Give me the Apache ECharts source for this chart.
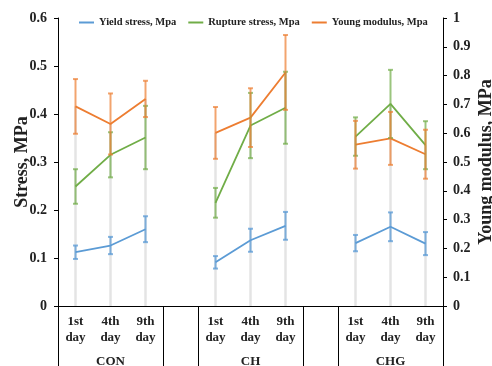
<!DOCTYPE html>
<html>
<head>
<meta charset="utf-8">
<script src="https://cdn.jsdelivr.net/npm/echarts@6/dist/echarts.min.js"></script>
<style>html,body{margin:0;padding:0;background:#fff;}#c{width:492px;height:366px;}</style>
</head>
<body>
<div id="c"></div>
<script>
// ---- data ----
const categories = ['1st\nday','4th\nday','9th\nday','','1st\nday','4th\nday','9th\nday','','1st\nday','4th\nday','9th\nday'];
const groups = ['','CON','','','','CH','','','','CHG',''];
const separatorSlots = [0,3,4,7,8];
const yieldStress = [0.112,0.126,0.160,null,0.091,0.137,0.167,null,0.131,0.165,0.130];
const yieldErr    = [0.014,0.018,0.027,null,0.013,0.024,0.029,null,0.017,0.030,0.024];
const rupture     = [0.249,0.315,0.351,null,0.215,0.376,0.413,null,0.353,0.421,0.335];
const ruptureErr  = [0.036,0.047,0.066,null,0.031,0.068,0.075,null,0.040,0.071,0.050];
const young       = [0.693,0.632,0.719,null,0.601,0.654,0.811,null,0.560,0.582,0.527];
const youngErr    = [0.095,0.106,0.063,null,0.090,0.102,0.130,null,0.083,0.092,0.085];
const leftMax = 0.6, rightMax = 1.0;

const FONT = 'Liberation Serif';
const TXT = '#222';

function errData(vals, errs) {
  const out = [];
  vals.forEach((v, i) => { if (v != null) out.push([i, v - errs[i], v + errs[i]]); });
  return out;
}
function errRender(color) {
  return function (params, api) {
    const x = api.value(0), lo = api.value(1), hi = api.value(2);
    const a = api.coord([x, hi]), b = api.coord([x, lo]);
    const hw = 2.5;
    const st = {stroke: color, lineWidth: 2};
    return {type: 'group', children: [
      {type: 'line', shape: {x1: a[0], y1: a[1], x2: b[0], y2: b[1]}, style: st},
      {type: 'line', shape: {x1: a[0]-hw, y1: a[1], x2: a[0]+hw, y2: a[1]}, style: st},
      {type: 'line', shape: {x1: b[0]-hw, y1: b[1], x2: b[0]+hw, y2: b[1]}, style: st}
    ]};
  };
}
const dropData = [];
categories.forEach((c, i) => {
  if (yieldStress[i] != null) {
    dropData.push([i, Math.max(yieldStress[i], rupture[i], young[i] * leftMax / rightMax)]);
  }
});

const chart = echarts.init(document.getElementById('c'), null, {renderer: 'canvas'});
const axisLabelFmt = v => v === 0 ? '0' : (v === 1 ? '1' : v.toFixed(1));
chart.setOption({
  animation: false,
  backgroundColor: '#fff',
  textStyle: {fontFamily: FONT},
  grid: {left: 58, right: 49, top: 18, bottom: 60, outerBoundsMode: 'none', containLabel: false},
  legend: {
    data: ['Yield stress, Mpa', 'Rupture stress, Mpa', 'Young modulus, Mpa'],
    left: 79, top: 17, padding: 0, itemWidth: 15, itemHeight: 2, itemGap: 12, icon: 'rect',
    textStyle: {fontFamily: FONT, fontWeight: 'bold', fontSize: 10.5, color: TXT}
  },
  xAxis: [
    {
      type: 'category', data: categories, boundaryGap: true,
      axisLine: {show: true, lineStyle: {color: '#000', width: 1}},
      axisTick: {show: false},
      axisLabel: {interval: 0, fontFamily: FONT, fontWeight: 'bold', fontSize: 13, color: TXT, lineHeight: 16, margin: 8},
      splitLine: {show: false}
    },
    {
      type: 'category', data: groups, boundaryGap: true, position: 'bottom',
      axisLine: {show: false},
      axisTick: {show: true, length: 62, interval: (i) => separatorSlots.indexOf(i) >= 0, lineStyle: {color: '#000', width: 1}},
      axisLabel: {interval: 0, fontFamily: FONT, fontWeight: 'bold', fontSize: 13, color: TXT, margin: 49},
      splitLine: {show: false}
    }
  ],
  yAxis: [
    {
      type: 'value', min: 0, max: leftMax, interval: 0.1,
      name: 'Stress, MPa', nameLocation: 'middle', nameGap: 27, nameRotate: 90, nameMoveOverlap: false,
      nameTextStyle: {fontFamily: FONT, fontWeight: 'bold', fontSize: 18, color: TXT},
      axisLine: {show: true, lineStyle: {color: '#000', width: 1}},
      axisTick: {show: true, length: 4, lineStyle: {color: '#000'}},
      axisLabel: {formatter: axisLabelFmt, fontFamily: FONT, fontWeight: 'bold', fontSize: 14, color: TXT, margin: 11},
      splitLine: {show: false}
    },
    {
      type: 'value', min: 0, max: rightMax, interval: 0.1, position: 'right',
      name: 'Young modulus, MPa', nameLocation: 'middle', nameGap: 34, nameRotate: 90, nameMoveOverlap: false,
      nameTextStyle: {fontFamily: FONT, fontWeight: 'bold', fontSize: 18, color: TXT},
      axisLine: {show: true, lineStyle: {color: '#000', width: 1}},
      axisTick: {show: true, length: 4, lineStyle: {color: '#000'}},
      axisLabel: {formatter: axisLabelFmt, fontFamily: FONT, fontWeight: 'bold', fontSize: 14, color: TXT, margin: 10},
      splitLine: {show: false}
    }
  ],
  series: [
    {
      name: 'drop', type: 'custom', xAxisIndex: 0, yAxisIndex: 0, data: dropData, z: 1,
      encode: {x: 0, y: 1}, silent: true,
      renderItem: function (params, api) {
        const x = api.value(0);
        const a = api.coord([x, api.value(1)]), b = api.coord([x, 0]);
        return {type: 'line', shape: {x1: a[0], y1: a[1], x2: b[0], y2: b[1]}, style: {stroke: '#e4e4e4', lineWidth: 2.5}};
      }
    },
    {name: 'Yield stress, Mpa', type: 'line', yAxisIndex: 0, data: yieldStress, symbol: 'none', z: 3,
      lineStyle: {width: 1.8, color: '#5b9bd5'}, itemStyle: {color: '#5b9bd5'}},
    {name: 'Rupture stress, Mpa', type: 'line', yAxisIndex: 0, data: rupture, symbol: 'none', z: 3,
      lineStyle: {width: 1.8, color: '#70ad47'}, itemStyle: {color: '#70ad47'}},
    {name: 'Young modulus, Mpa', type: 'line', yAxisIndex: 1, data: young, symbol: 'none', z: 3,
      lineStyle: {width: 1.8, color: '#ed7d31'}, itemStyle: {color: '#ed7d31'}},
    {name: 'yErr', type: 'custom', yAxisIndex: 0, data: errData(yieldStress, yieldErr), encode: {x: 0, y: [1, 2]}, z: 4,
      renderItem: errRender('rgba(91,155,213,0.75)')},
    {name: 'rErr', type: 'custom', yAxisIndex: 0, data: errData(rupture, ruptureErr), encode: {x: 0, y: [1, 2]}, z: 4,
      renderItem: errRender('rgba(112,173,71,0.7)')},
    {name: 'mErr', type: 'custom', yAxisIndex: 1, data: errData(young, youngErr), encode: {x: 0, y: [1, 2]}, z: 4,
      renderItem: errRender('rgba(237,125,49,0.7)')}
  ]
});
</script>
</body>
</html>
